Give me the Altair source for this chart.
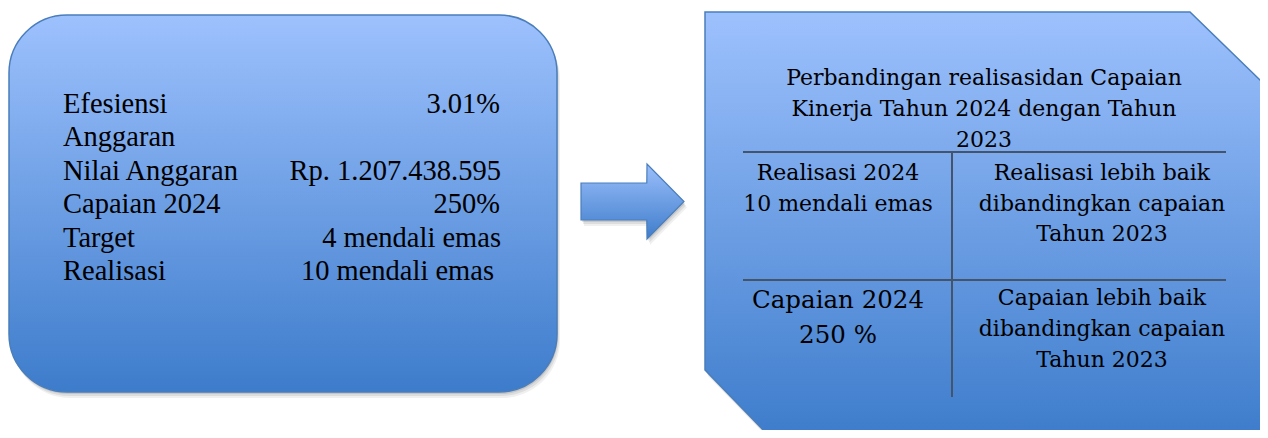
import altair as alt
import pandas as pd

# ---------------- content (text) ----------------
left_labels = ["Efesiensi", "Anggaran", "Nilai Anggaran", "Capaian 2024", "Target", "Realisasi"]
left_label_y = [113, 146, 180, 213, 247, 280]
left_values = ["3.01%", "Rp. 1.207.438.595", "250%", "4 mendali emas", "10 mendali emas"]
left_value_y = [113, 180, 213, 247, 280]
left_value_x = [500, 501, 500, 501, 494]

title_lines = ["Perbandingan realisasidan Capaian", "Kinerja Tahun 2024 dengan Tahun", "2023"]
title_y = [85, 116, 147]

cell_left_text = ["Realisasi 2024", "10 mendali emas", "Capaian 2024", "250 %"]
cell_left_y = [180, 211, 308, 343]
cell_left_size = [22, 22, 24.5, 24.5]

cell_right_text = ["Realisasi lebih baik", "dibandingkan capaian", "Tahun 2023",
                   "Capaian lebih baik", "dibandingkan capaian", "Tahun 2023"]
cell_right_y = [180, 211, 241, 305, 336, 367]

# ---------------- layout (shapes, pixel-like units) ----------------
box_x, box_x2, box_y, box_y2 = [9], [557], [15], [392]
panel_x = [705, 771, 1190, 1262]
panel_top = [12, 12, 12, 82]
panel_bottom = [370, 438, 438, 438]
arrow_x = [581, 646.8, 647, 684]
arrow_top = [183, 183, 164, 201.5]
arrow_bottom = [220, 220, 239, 201.5]
rule_x = [743, 743, 952]
rule_x2 = [1226, 1226, 952]
rule_y = [152, 280, 153]
rule_y2 = [152, 280, 397]

SERIF_TIMES = "Liberation Serif, Times New Roman, serif"
SERIF_CAMBRIA = "DejaVu Serif, serif"

XS = alt.Scale(domain=[8, 1260], nice=False, zero=False)
YS = alt.Scale(domain=[8, 430], nice=False, zero=False, reverse=True)

def grad(top, bottom):
    return alt.Gradient(
        gradient="linear",
        stops=[alt.GradientStop(color=top, offset=0), alt.GradientStop(color=bottom, offset=1)],
        x1=0, x2=0, y1=0, y2=1,
    )

def X(f):
    return alt.X(f, type="quantitative", scale=XS, axis=None)

def Y(f):
    return alt.Y(f, type="quantitative", scale=YS, axis=None)

layers = []

# shadows
for dx, dy, op in [(1, 2, 0.10), (2, 4, 0.08), (3, 6, 0.06)]:
    bdf = pd.DataFrame({"x": [v + dx for v in box_x], "x2": [v + dx for v in box_x2],
                        "y": [v + dy for v in box_y], "y2": [v + dy for v in box_y2]})
    layers.append(alt.Chart(bdf).mark_rect(cornerRadius=58, fill="#000000", opacity=op, clip=True)
                  .encode(x=X("x"), x2="x2", y=Y("y"), y2="y2"))
    pdf = pd.DataFrame({"x": [v + dx for v in panel_x], "t": [v + dy for v in panel_top],
                        "b": [v + dy for v in panel_bottom]})
    layers.append(alt.Chart(pdf).mark_area(fill="#000000", opacity=op, clip=True)
                  .encode(x=X("x"), y=Y("t"), y2="b"))
    adf = pd.DataFrame({"x": [v + dx for v in arrow_x], "t": [v + dy for v in arrow_top],
                        "b": [v + dy for v in arrow_bottom]})
    layers.append(alt.Chart(adf).mark_area(fill="#000000", opacity=op, clip=True)
                  .encode(x=X("x"), y=Y("t"), y2="b"))

# left rounded box
box_df = pd.DataFrame({"x": box_x, "x2": box_x2, "y": box_y, "y2": box_y2})
layers.append(alt.Chart(box_df).mark_rect(cornerRadius=58, fill=grad("#9DC1FD", "#3D7CCB"),
                                         stroke="#4A7EBB", strokeWidth=1.5, clip=True)
              .encode(x=X("x"), x2="x2", y=Y("y"), y2="y2"))

# arrow
arrow_df = pd.DataFrame({"x": arrow_x, "t": arrow_top, "b": arrow_bottom})
layers.append(alt.Chart(arrow_df).mark_area(fill=grad("#9BBFFB", "#3F7DCB"), stroke="#4A7EBB",
                                           strokeWidth=1.2, clip=True)
              .encode(x=X("x"), y=Y("t"), y2="b"))

# right panel
panel_df = pd.DataFrame({"x": panel_x, "t": panel_top, "b": panel_bottom})
layers.append(alt.Chart(panel_df).mark_area(fill=grad("#9DC1FD", "#3D7CCB"), stroke="#4A7EBB",
                                           strokeWidth=1.5, clip=True)
              .encode(x=X("x"), y=Y("t"), y2="b"))

# table lines
rule_df = pd.DataFrame({"x": rule_x, "x2": rule_x2, "y": rule_y, "y2": rule_y2})
layers.append(alt.Chart(rule_df).mark_rule(color="#44546A", strokeWidth=2)
              .encode(x=X("x"), x2="x2", y=Y("y"), y2="y2"))

# left box texts
ll_df = pd.DataFrame({"t": left_labels, "x": [63] * len(left_labels), "y": left_label_y})
layers.append(alt.Chart(ll_df).mark_text(align="left", baseline="alphabetic", font=SERIF_TIMES,
                                        fontSize=28.5, color="#000000")
              .encode(x=X("x"), y=Y("y"), text="t:N"))
lv_df = pd.DataFrame({"t": left_values, "x": left_value_x, "y": left_value_y})
layers.append(alt.Chart(lv_df).mark_text(align="right", baseline="alphabetic", font=SERIF_TIMES,
                                        fontSize=28.5, color="#000000")
              .encode(x=X("x"), y=Y("y"), text="t:N"))

# right panel texts
tt_df = pd.DataFrame({"t": title_lines, "x": [984] * len(title_lines), "y": title_y})
layers.append(alt.Chart(tt_df).mark_text(align="center", baseline="alphabetic", font=SERIF_CAMBRIA,
                                        fontSize=22, color="#000000")
              .encode(x=X("x"), y=Y("y"), text="t:N"))
cl_df = pd.DataFrame({"t": cell_left_text, "x": [838] * len(cell_left_text), "y": cell_left_y,
                      "s": cell_left_size})
layers.append(alt.Chart(cl_df).mark_text(align="center", baseline="alphabetic", font=SERIF_CAMBRIA,
                                        color="#000000")
              .encode(x=X("x"), y=Y("y"), text="t:N", size=alt.Size("s:Q", scale=None, legend=None)))
cr_df = pd.DataFrame({"t": cell_right_text, "x": [1102] * len(cell_right_text), "y": cell_right_y})
layers.append(alt.Chart(cr_df).mark_text(align="center", baseline="alphabetic", font=SERIF_CAMBRIA,
                                        fontSize=22, color="#000000")
              .encode(x=X("x"), y=Y("y"), text="t:N"))

chart = alt.layer(*layers).properties(
    width=1252, height=422,
    autosize=alt.AutoSizeParams(type="none"),
    padding=0,
    background="#FFFFFF",
).configure_view(stroke=None)

chart.save("out.html", embed_options={"renderer": "svg", "actions": False})
